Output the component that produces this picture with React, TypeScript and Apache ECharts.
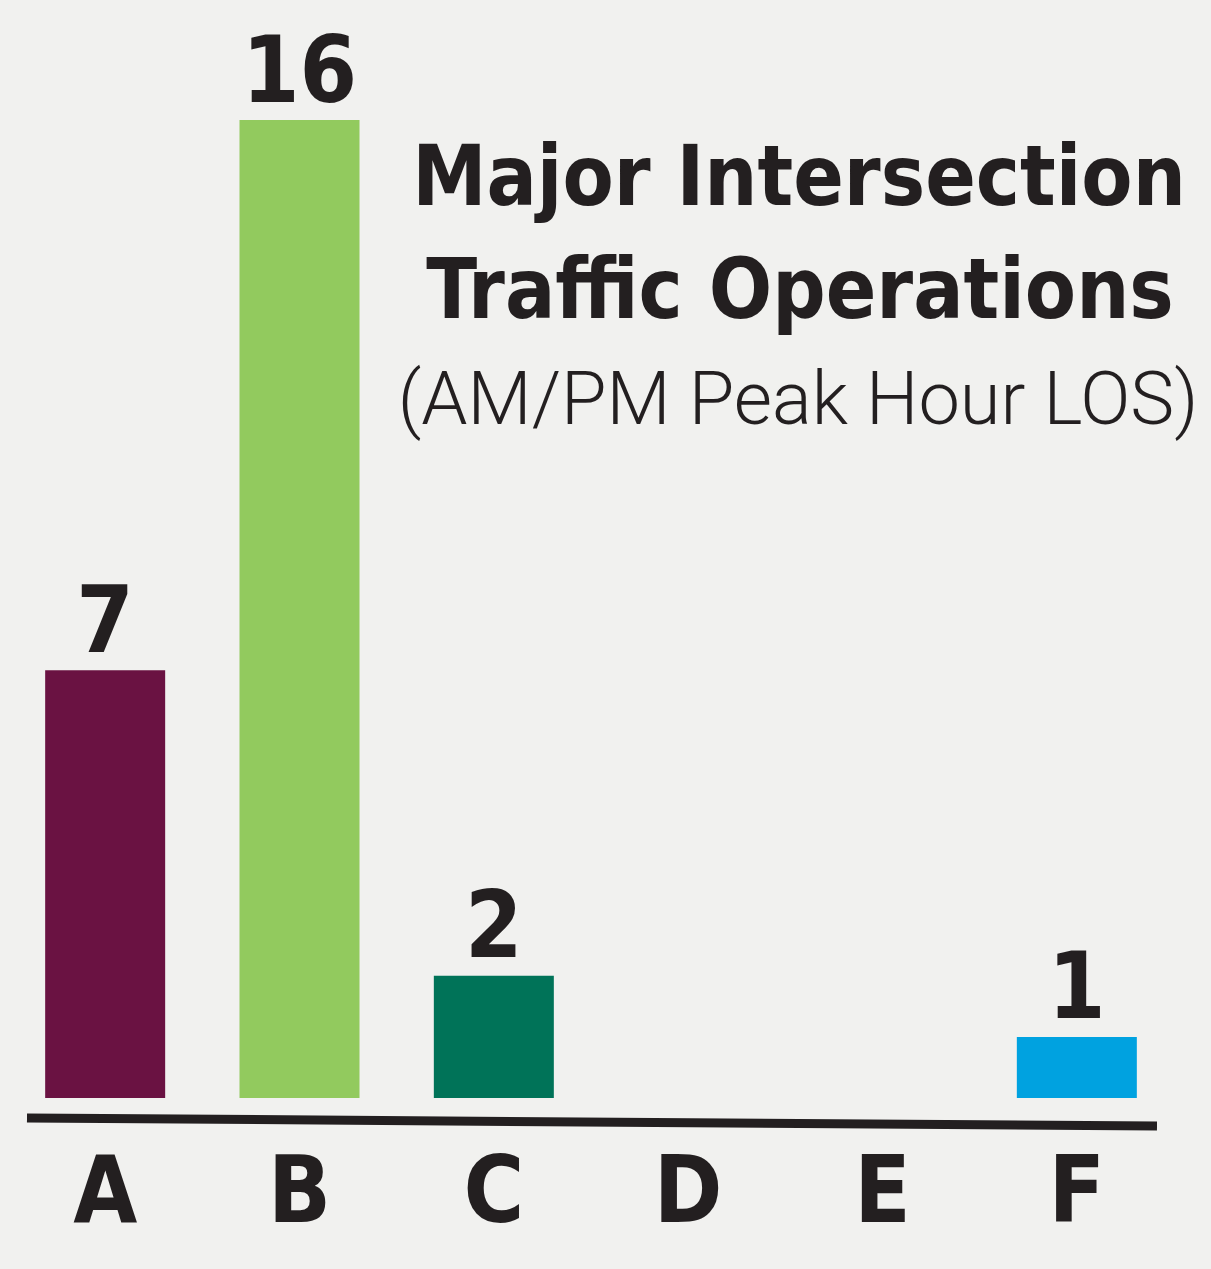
import React, { useEffect, useRef } from "react";
import * as echarts from "echarts";

const categories = ["A", "B", "C", "D", "E", "F"];
const values = [7, 16, 2, 0, 0, 1];
const barColors = ["#6A1242", "#92CA5E", "#007358", "#888888", "#888888", "#00A2E0"];
const titleLines = ["Major Intersection", "Traffic Operations"];
const subtitle = "(AM/PM Peak Hour LOS)";

const BOLD_FONT = "'Liberation Sans Narrow', 'DejaVu Sans Condensed', Roboto, sans-serif";
const LIGHT_FONT = "Roboto, 'Noto Sans', sans-serif";
const INK = "#231F20";

export default function App() {
  const ref = useRef<HTMLDivElement>(null);
  useEffect(() => {
    if (!ref.current) return;
    const chart = echarts.init(ref.current, null, { renderer: "svg" });
    chart.setOption({
      animation: false,
      backgroundColor: "#F1F1EF",
      grid: { left: 8, right: 37, top: 120, bottom: 171 },
      xAxis: {
        type: "category",
        data: categories,
        axisLine: { show: false },
        axisTick: { show: false },
        axisLabel: {
          color: INK,
          fontFamily: BOLD_FONT,
          fontWeight: "bold",
          fontSize: 92,
          margin: 46,
        },
      },
      yAxis: {
        type: "value",
        min: 0,
        max: 16,
        show: false,
        splitLine: { show: false },
      },
      graphic: [
        {
          type: "line",
          shape: { x1: 27, y1: 1118, x2: 1157, y2: 1126 },
          style: { stroke: INK, lineWidth: 9 },
        },
        {
          type: "text",
          x: 799,
          y: 218,
          style: {
            text: titleLines[0],
            fill: INK,
            font: `bold 83px ${BOLD_FONT}`,
            textAlign: "center",
            textVerticalAlign: "bottom",
          },
        },
        {
          type: "text",
          x: 800,
          y: 331,
          style: {
            text: titleLines[1],
            fill: INK,
            font: `bold 83px ${BOLD_FONT}`,
            textAlign: "center",
            textVerticalAlign: "bottom",
          },
        },
        {
          type: "text",
          x: 798,
          y: 435,
          style: {
            text: subtitle,
            fill: INK,
            font: `300 74px ${LIGHT_FONT}`,
            textAlign: "center",
            textVerticalAlign: "bottom",
          },
        },
      ],
      series: [
        {
          type: "bar",
          data: values.map((v, i) => ({
            value: v,
            itemStyle: { color: barColors[i] },
            label: { show: v > 0 },
          })),
          barWidth: 120,
          label: {
            show: true,
            position: "top",
            distance: 4,
            color: INK,
            fontFamily: BOLD_FONT,
            fontWeight: "bold",
            fontSize: 92,
          },
        },
      ],
    });
    return () => chart.dispose();
  }, []);
  return (
    <div
      ref={ref}
      style={{ position: "fixed", left: 0, top: 0, width: 1211, height: 1269 }}
    />
  );
}
